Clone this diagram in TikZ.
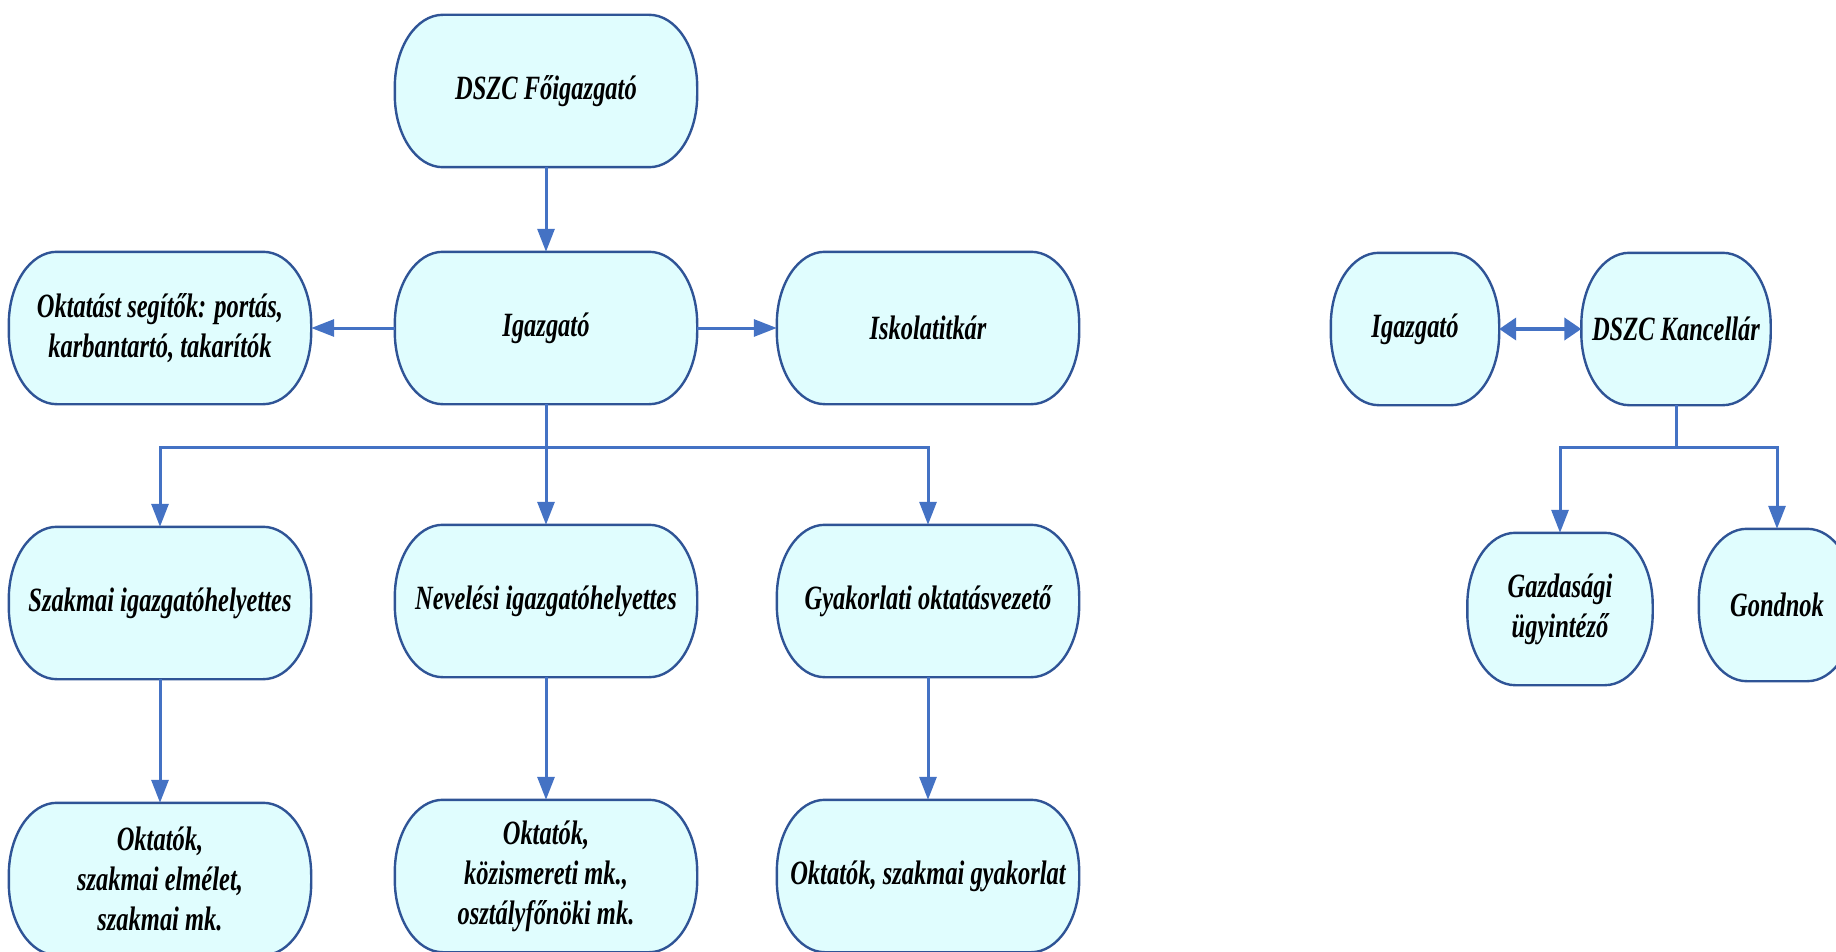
\documentclass[tikz,border=0pt]{standalone}
\usepackage{fontspec}
\newfontfamily\unitfont{Liberation Serif}[FakeStretch=0.72]
\usetikzlibrary{arrows.meta,backgrounds}

\definecolor{unitfill}{HTML}{E0FDFE}
\definecolor{unitline}{HTML}{2F5496}
\definecolor{linkblue}{HTML}{4472C4}

\newcommand\rx{48pt}
\newcommand\ry{72pt}
\newcommand\unitframe[1]{%
  \filldraw[frame] ([xshift=\rx]#1.north west) -- ([xshift=-\rx]#1.north east)
    arc[start angle=90, end angle=0, x radius=\rx, y radius=\ry]
    -- ([yshift=\ry]#1.south east)
    arc[start angle=0, end angle=-90, x radius=\rx, y radius=\ry]
    -- ([xshift=\rx]#1.south west)
    arc[start angle=270, end angle=180, x radius=\rx, y radius=\ry]
    -- ([yshift=-\ry]#1.north west)
    arc[start angle=180, end angle=90, x radius=\rx, y radius=\ry] -- cycle;}

\begin{document}
\begin{tikzpicture}[x=1pt, y=-1pt]
   \tikzstyle{unit}=[rectangle, minimum width=302pt, minimum height=152pt, inner sep=0pt, align=center,
                     font=\unitfont\bfseries\itshape\fontsize{34}{40}\selectfont]
   \tikzstyle{frame}=[fill=unitfill, draw=unitline, line width=2.4pt]
   \tikzstyle{link}=[draw=linkblue, line width=3pt, -{Triangle[length=23pt, width=17pt]}]
   \useasboundingbox (0,0) rectangle (1836,952);

% school side
\node[unit] (fo)   at (546,91)  {DSZC Főigazgató};
\node[unit] (ig)   at (546,328) {Igazgató};
\node[unit] (seg)  at (160,328) {Oktatást segítők: portás,\\karbantartó, takarítók};
\node[unit] (tit)  at (928,328) {Iskolatitkár};
\node[unit] (szak) at (160,603) {Szakmai igazgatóhelyettes};
\node[unit] (nev)  at (546,601) {Nevelési igazgatóhelyettes};
\node[unit] (gyak) at (928,601) {Gyakorlati oktatásvezető};
\node[unit] (okt1) at (160,879) {Oktatók,\\szakmai elmélet,\\szakmai mk.};
\node[unit] (okt2) at (546,876) {Oktatók,\\közismereti mk.,\\osztályfőnöki mk.};
\node[unit] (okt3) at (928,876) {Oktatók, szakmai gyakorlat};

% kancellar side
\node[unit, minimum width=168pt] (ig2)  at (1415,329) {Igazgató};
\node[unit, minimum width=189pt] (kanc) at (1676,329) {DSZC Kancellár};
\node[unit, minimum width=185pt] (gazd) at (1560,609) {Gazdasági\\ügyintéző};
\node[unit, minimum width=156pt] (gond) at (1777,605) {Gondnok};

\begin{scope}[on background layer]
  \foreach \n in {fo,ig,seg,tit,szak,nev,gyak,okt1,okt2,okt3,ig2,kanc,gazd,gond}
     \unitframe{\n};
\end{scope}

\coordinate (br)  at (546,447);
\coordinate (br2) at (1676,447);

\draw[link] (fo) -- (ig);
\draw[link] (ig) -- (seg);
\draw[link] (ig) -- (tit);
\draw[link] (ig) -- (nev);
\draw[link] (br) -| (szak);
\draw[link] (br) -| (gyak);
\draw[link] (szak) -- (okt1);
\draw[link] (nev) -- (okt2);
\draw[link] (gyak) -- (okt3);

\draw[link, line width=4pt, {Triangle[length=17pt, width=22pt]}-{Triangle[length=17pt, width=22pt]}] (ig2) -- (kanc);
\draw[link, -] (kanc) -- (br2);
\draw[link] (br2) -| (gazd);
\draw[link] (br2) -| (gond);

\end{tikzpicture}
\end{document}
